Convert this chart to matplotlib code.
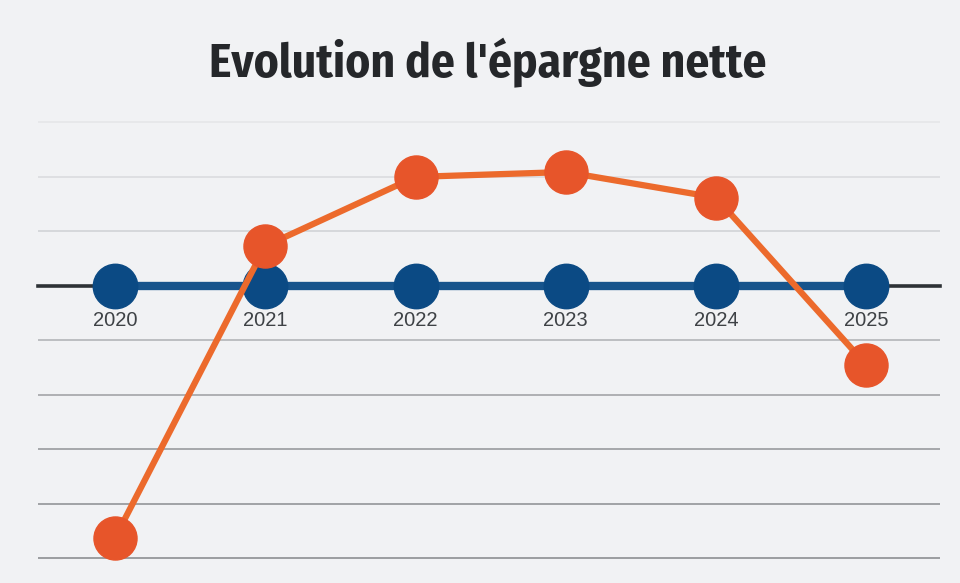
import numpy as np
import matplotlib
matplotlib.use("Agg")
import matplotlib.pyplot as plt

# Data (units = one grid step)
years = ["2020", "2021", "2022", "2023", "2024", "2025"]
epargne = [-4.63, 0.73, 2.0, 2.09, 1.62, -1.45]
reference = [0, 0, 0, 0, 0, 0]
grid_levels = [3, 2, 1, -1, -2, -3, -4, -5]
grid_colors = ["#e6e8ea", "#dcdee1", "#d4d6d9", "#b8babd", "#a9abae", "#a0a2a5", "#9a9c9f", "#95979a"]

fig = plt.figure(figsize=(9.6, 5.83), dpi=100, facecolor="#f1f2f4")
ax = fig.add_axes([0.040, 0.024, 0.939, 0.794])
ax.set_facecolor("none")

x = np.arange(len(years))

# gridlines
for lvl, col in zip(grid_levels, grid_colors):
    ax.axhline(lvl, color=col, lw=1.3, zorder=1)

# zero line as bottom spine
for s in ["top", "right", "left"]:
    ax.spines[s].set_visible(False)
ax.spines["bottom"].set_position(("data", 0))
ax.spines["bottom"].set_color("#2e3236")
ax.spines["bottom"].set_linewidth(2.6)
ax.spines["bottom"].set_zorder(2)

ax.plot(x, reference, color="#17548c", lw=6, marker="o", ms=32,
        mfc="#0b4a84", mec="#0b4a84", zorder=3, clip_on=False)
ax.plot(x, epargne, color="#ec6a2c", lw=4.5, marker="o", ms=31,
        mfc="#e7552a", mec="#e7552a", zorder=4, clip_on=False)

ax.set_xticks(x)
ax.set_xticklabels(years, fontsize=14.5, color="#3e4246", family="Liberation Sans")
ax.tick_params(axis="x", length=0, pad=18)
ax.set_yticks([])
ax.set_xlim(-0.51, 5.49)
ax.set_ylim(-5.2, 3.3)

fig.text(0.508, 0.892, "Evolution de l'épargne nette", ha="center", va="center",
         fontsize=34, fontweight="bold", color="#25272a",
         family=["Fira Sans Condensed", "DejaVu Sans"])

fig.savefig("out.png", dpi=100, facecolor=fig.get_facecolor())
